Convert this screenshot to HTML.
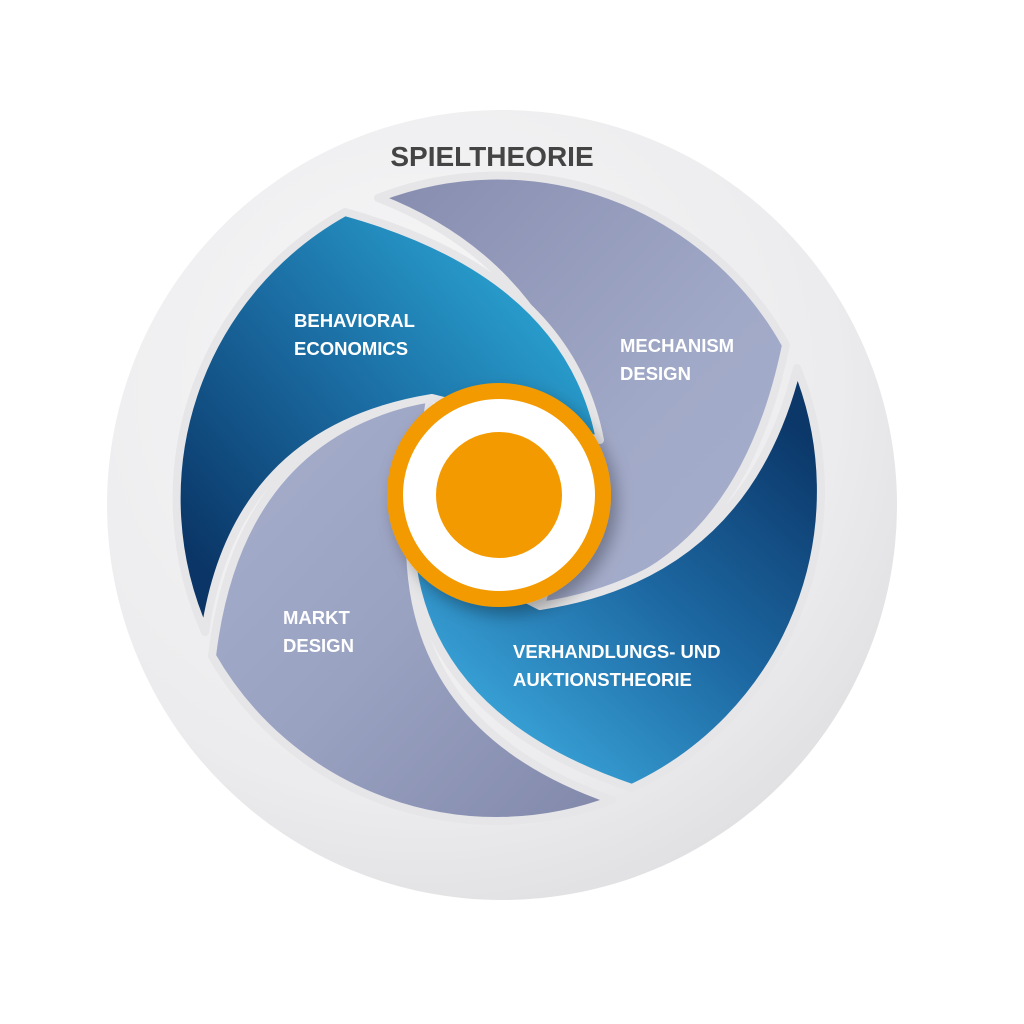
<!DOCTYPE html>
<html><head><meta charset="utf-8"><style>
html,body{margin:0;padding:0;background:#fff;}
svg{display:block;}
text{font-family:"Liberation Sans",sans-serif;font-weight:bold;}
</style></head><body>
<svg width="1024" height="1024" viewBox="0 0 1024 1024">
<defs>
<radialGradient id="bg" cx="0.4" cy="0.35" r="0.75">
<stop offset="0" stop-color="#f7f7f8"/><stop offset="0.7" stop-color="#ececee"/><stop offset="1" stop-color="#dcdcde"/>
</radialGradient>
<linearGradient id="b1" x1="0.9" y1="0.2" x2="0.1" y2="0.9">
<stop offset="0" stop-color="#2aa3d2"/><stop offset="0.5" stop-color="#1a6aa0"/><stop offset="1" stop-color="#0a3566"/>
</linearGradient>
<linearGradient id="b2" x1="0.9" y1="0.1" x2="0.2" y2="0.9">
<stop offset="0" stop-color="#0b3769"/><stop offset="0.5" stop-color="#1d68a2"/><stop offset="1" stop-color="#3aa6da"/>
</linearGradient>
<linearGradient id="g1" x1="0" y1="0" x2="1" y2="1">
<stop offset="0" stop-color="#868cae"/><stop offset="0.6" stop-color="#a1a9c8"/><stop offset="1" stop-color="#a6aecc"/>
</linearGradient>
<linearGradient id="g2" x1="0" y1="0" x2="1" y2="1">
<stop offset="0" stop-color="#a7afcd"/><stop offset="0.5" stop-color="#9aa2c2"/><stop offset="1" stop-color="#8188aa"/>
</linearGradient>
<filter id="sh" x="-30%" y="-30%" width="160%" height="160%"><feDropShadow dx="6" dy="8" stdDeviation="8" flood-opacity="0.3"/></filter>
</defs>
<circle cx="502" cy="505" r="395" fill="url(#bg)"/>
<g stroke="#e6e6e8" stroke-width="8" stroke-linejoin="round">
<path d="M378,198 A330,330 0 0 1 786,345 Q737,584 540,608 L590,440 Q545,262 378,198 Z" fill="url(#g1)"/>
<path d="M797,368 A328,328 0 0 1 632,788 Q419,716 410,540 L540,606 Q745,575 797,368 Z" fill="url(#b2)"/>
<path d="M212,656 A328,328 0 0 0 612,800 Q409,730 410,540 L430,398 Q239,433 212,656 Z" fill="url(#g2)"/>
<path d="M205,632 A328,328 0 0 1 345,212 Q568,274 600,440 L432,398 Q235,430 205,632 Z" fill="url(#b1)"/>
</g>
<g filter="url(#sh)">
<circle cx="499" cy="495" r="112" fill="#f39a00"/>
</g>
<circle cx="499" cy="495" r="96" fill="#fff"/>
<circle cx="499" cy="495" r="63" fill="#f39a00"/>
<text x="492" y="166" font-size="28" fill="#444" text-anchor="middle">SPIELTHEORIE</text>
<g fill="#fff" font-size="18.5">
<text x="294" y="327">BEHAVIORAL</text><text x="294" y="355">ECONOMICS</text>
<text x="620" y="352">MECHANISM</text><text x="620" y="380">DESIGN</text>
<text x="283" y="624">MARKT</text><text x="283" y="652">DESIGN</text>
<text x="513" y="658">VERHANDLUNGS- UND</text><text x="513" y="686">AUKTIONSTHEORIE</text>
</g>
</svg>
</body></html>
